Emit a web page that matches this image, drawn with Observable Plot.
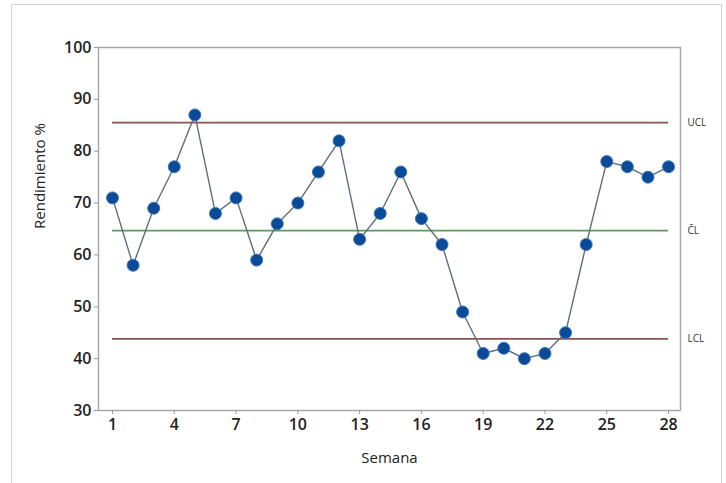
<!DOCTYPE html>
<html>
<head>
<meta charset="utf-8">
<script src="https://cdn.jsdelivr.net/npm/d3@7"></script>
<script src="https://cdn.jsdelivr.net/npm/@observablehq/plot@0.6"></script>
<style>
  html, body { margin: 0; padding: 0; background: #fff; }
  #wrap { position: relative; width: 726px; height: 483px; overflow: hidden; }
  #border { position: absolute; left: 11px; top: 4px; width: 711px; height: 500px; border: 1.5px solid #d4d4d4; box-sizing: border-box; pointer-events: none; }
</style>
</head>
<body>
<div id="wrap"><div id="border"></div></div>
<script>
const weeks = d3.range(1, 29);
const rendimiento = [71, 58, 69, 77, 87, 68, 71, 59, 66, 70, 76, 82, 63, 68, 76, 67, 62, 49, 41, 42, 40, 41, 45, 62, 78, 77, 75, 77];
const limitNames = ["UCL", "C\u0304L", "LCL"];
const limitValues = [85.5, 64.7, 43.8];
const limitColors = ["#8a5550", "#5e9a5e", "#8a5550"];
const xTicks = [1, 4, 7, 10, 13, 16, 19, 22, 25, 28];
const yTicks = [30, 40, 50, 60, 70, 80, 90, 100];

const data = weeks.map((w, i) => ({semana: w, valor: rendimiento[i]}));
const limits = limitNames.map((n, i) => ({name: n, value: limitValues[i], color: limitColors[i]}));

const chart = Plot.plot({
  width: 726,
  height: 483,
  marginLeft: 98,
  marginRight: 46,
  marginTop: 47,
  marginBottom: 73,
  style: {fontFamily: "'Open Sans', 'Noto Sans', sans-serif", background: "transparent", color: "#1a1a1a"},
  x: {domain: [0.32, 28.58]},
  y: {domain: [30, 100]},
  marks: [
    Plot.frame({stroke: "#a8a8a8", strokeWidth: 1.5}),
    Plot.axisY({ticks: yTicks, tickSize: 4, tickPadding: 3, fontSize: 16, fontWeight: 600, fill: "#222", stroke: "#999", label: null}),
    Plot.axisX({ticks: xTicks, tickSize: 4, tickPadding: 4, fontSize: 16, fontWeight: 600, fill: "#222", stroke: "#999", label: null}),
    Plot.text(["Rendimiento %"], {frameAnchor: "left", dx: -58, rotate: -90, fontSize: 15, fontWeight: 500, fill: "#222"}),
    Plot.text(["Semana"], {frameAnchor: "bottom", dy: 52, fontSize: 15, fontWeight: 500, fill: "#222"}),
    Plot.ruleY(limits, {y: "value", x1: 1, x2: 28, stroke: "color", strokeWidth: 1.8}),
    Plot.text(limits, {y: "value", text: "name", frameAnchor: "right", dx: 7, textAnchor: "start", fontSize: 10, fill: "#333"}),
    Plot.line(data, {x: "semana", y: "valor", stroke: "#5b6f7c", strokeWidth: 1.4}),
    Plot.dot(data, {x: "semana", y: "valor", r: 6, fill: "#0b4a96", stroke: "#3f78b8", strokeWidth: 1})
  ]
});
document.getElementById("wrap").appendChild(chart);
chart.style.position = "absolute";
chart.style.left = "0";
chart.style.top = "0";
</script>
</body>
</html>
